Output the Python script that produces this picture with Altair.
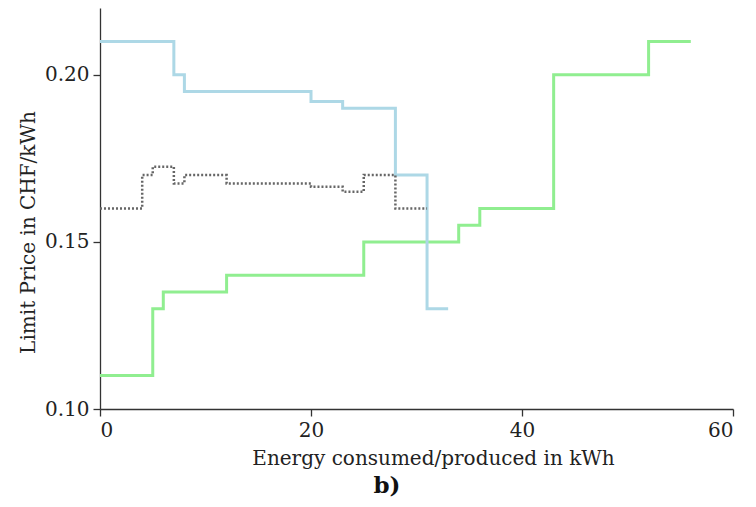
import altair as alt
import pandas as pd

# Offer curves (step functions): x = cumulative energy (kWh), y = limit price (CHF/kWh)
blue_x = [0, 7, 8, 20, 23, 28, 31, 33]
blue_y = [0.21, 0.20, 0.195, 0.192, 0.19, 0.17, 0.13, 0.13]

green_x = [0, 5, 6, 12, 25, 34, 36, 43, 52, 56]
green_y = [0.11, 0.13, 0.135, 0.14, 0.15, 0.155, 0.16, 0.20, 0.21, 0.21]

dotted_x = [0, 4, 5, 7, 8, 12, 20, 23, 25, 28, 31]
dotted_y = [0.16, 0.17, 0.1725, 0.1675, 0.17, 0.1675, 0.1665, 0.165, 0.17, 0.16, 0.16]

x_ticks = [0, 20, 40, 60]
y_ticks = [0.10, 0.15, 0.20]

FONT = "DejaVu Serif"

x_scale = alt.Scale(domain=[0, 60], nice=False, zero=False)
y_scale = alt.Scale(domain=[0.10, 0.22], nice=False, zero=False)

x_axis = alt.Axis(
    title="Energy consumed/produced in kWh",
    values=x_ticks,
    format="d",
    grid=False,
    titleX=333,
    titleY=55,
    titleAlign="center",
    titleBaseline="alphabetic",
    labelBaseline="alphabetic",
    labelPadding=20,
)
y_axis = alt.Axis(
    title="Limit Price in CHF/kWh",
    values=y_ticks,
    format=".2f",
    grid=False,
    titleX=-72,
    titleY=224,
    titleAngle=-90,
    titleAlign="center",
    titleBaseline="middle",
    labelPadding=4,
)


def step_line(xs, ys, color, dash=None, width=3):
    df = pd.DataFrame({"x": xs, "y": ys})
    kw = dict(interpolate="step-after", color=color, strokeWidth=width, clip=True)
    if dash:
        kw["strokeDash"] = dash
    return alt.Chart(df).mark_line(**kw).encode(
        x=alt.X("x:Q", scale=x_scale, axis=x_axis),
        y=alt.Y("y:Q", scale=y_scale, axis=y_axis),
    )


green = step_line(green_x, green_y, "#90ee90")
blue = step_line(blue_x, blue_y, "#add8e6")
dotted = step_line(dotted_x, dotted_y, "#666666", dash=[2, 2], width=2.5)

label = alt.Chart(pd.DataFrame({"t": ["b)"]})).mark_text(
    font=FONT, fontSize=23, fontWeight="bold", color="#111111",
    align="center", baseline="alphabetic",
).encode(text="t:N", x=alt.value(287), y=alt.value(485))

chart = alt.layer(green, blue, dotted, label).properties(
    width=633,
    height=401,
    autosize=alt.AutoSizeParams(type="none"),
    padding={"left": 92, "top": 0, "right": 14, "bottom": 89},
).configure_view(
    stroke=None
).configure_axis(
    domainColor="#333333",
    domainWidth=1.3,
    tickColor="#333333",
    tickWidth=1.3,
    tickSize=7,
    labelFont=FONT,
    labelFontSize=20,
    labelColor="#222222",
    titleFont=FONT,
    titleFontSize=20,
    titleFontWeight="normal",
    titleColor="#222222",
)

chart.save("out.html", embed_options={"renderer": "svg", "actions": False})
